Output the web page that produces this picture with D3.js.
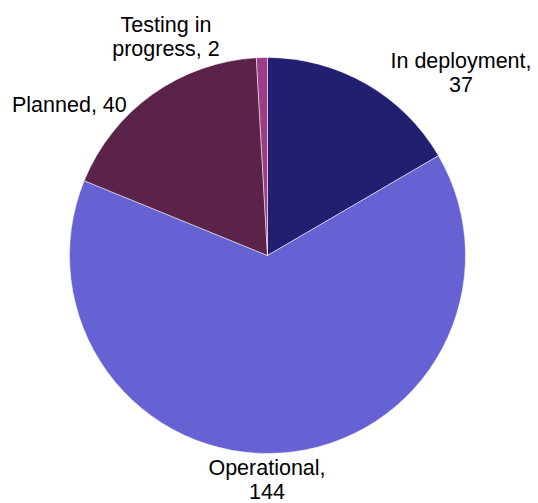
<!DOCTYPE html>
<html><head><meta charset="utf-8">
<script src="https://cdn.jsdelivr.net/npm/d3@7"></script>
<style>body{margin:0;background:#fff}svg{display:block}</style>
</head><body>
<script>
const categories = ["In deployment", "Operational", "Planned", "Testing in progress"];
const values = [37, 144, 40, 2];
const colors = ["#231F70", "#6662D3", "#5B2349", "#9C3D85"];
const labelLines = [["In deployment,", "37"], ["Operational,", "144"], ["Planned, 40"], ["Testing in", "progress, 2"]];
const labelPos = [[461, 68, "middle"], [267, 475, "middle"], [12, 112, "start"], [166, 32, "middle"]];

const W = 538, H = 503, cx = 267.5, cy = 255.5, r = 198;
const svg = d3.select("body").append("svg").attr("width", W).attr("height", H);
const data = categories.map((c, i) => ({c, v: values[i], i}));
const pie = d3.pie().value(d => d.v).sort(null);
const arc = d3.arc().innerRadius(0).outerRadius(r);
const g = svg.append("g").attr("transform", `translate(${cx},${cy})`);
g.selectAll("path").data(pie(data)).join("path")
  .attr("d", arc).attr("fill", d => colors[d.data.i])
  .attr("stroke", "#fff").attr("stroke-width", 0.5);

data.forEach(d => {
  const [x, y, anchor] = labelPos[d.i];
  const t = svg.append("text").attr("x", x).attr("y", y).attr("text-anchor", anchor)
    .attr("font-family", "Liberation Sans, Arial, sans-serif").attr("font-size", 21.5).attr("fill", "#000");
  labelLines[d.i].forEach((line, k) => {
    t.append("tspan").attr("x", x).attr("dy", k === 0 ? 0 : 24).text(line);
  });
});
</script>
</body></html>
